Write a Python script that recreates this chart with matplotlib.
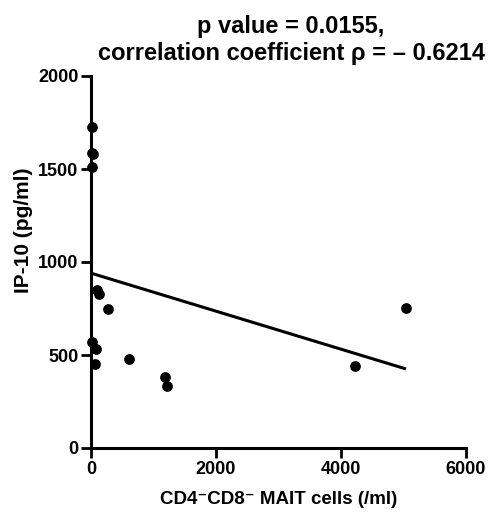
import matplotlib
matplotlib.use("Agg")
import matplotlib.pyplot as plt

plt.rcParams['font.family'] = ['Liberation Sans', 'DejaVu Sans']
plt.rcParams['font.weight'] = 'bold'

# data
mait_cells = [20, 20, 25, 20, 101, 133, 277, 10, 80, 64, 608, 1184, 1211, 4224, 5040]
ip10 = [1726, 1588, 1580, 1511, 848, 826, 746, 570, 531, 450, 477, 382, 333, 441, 755]
fit_x = [0, 5040]
fit_y = [940, 425]

x_ticks = [0, 2000, 4000, 6000]
y_ticks = [0, 500, 1000, 1500, 2000]

title = "p value = 0.0155,\ncorrelation coefficient ρ = – 0.6214"
xlabel = "CD4\u207bCD8\u207b MAIT cells (/ml)"
ylabel = "IP-10 (pg/ml)"

fig = plt.figure(figsize=(4.91, 5.12), dpi=100)
ax = fig.add_axes([91/491, 1-448/512, (466-91)/491, (448-76)/512])

ax.plot(fit_x, fit_y, color='black', lw=2.2, solid_capstyle='butt', zorder=2)
ax.scatter(mait_cells, ip10, s=45, color='black', zorder=3, clip_on=False)

ax.set_xlim(0, 6000)
ax.set_ylim(0, 2000)
ax.set_xticks(x_ticks)
ax.set_yticks(y_ticks)
for s in ['top', 'right']:
    ax.spines[s].set_visible(False)
for s in ['left', 'bottom']:
    ax.spines[s].set_linewidth(2.2)
ax.tick_params(axis='both', direction='out', length=7, width=2.0, labelsize=13, pad=2)
for lab in ax.get_xticklabels() + ax.get_yticklabels():
    lab.set_fontweight('bold')

ax.set_xlabel(xlabel, fontsize=13.5, fontweight='bold', labelpad=10)
ax.set_ylabel(ylabel, fontsize=15, fontweight='bold')
ax.yaxis.set_label_coords(-0.155, 0.586)

fig.text(291/491, 1-40/512, title, ha='center', va='center', fontsize=17, fontweight='bold', linespacing=1.2)

fig.savefig('out.png', dpi=100)
